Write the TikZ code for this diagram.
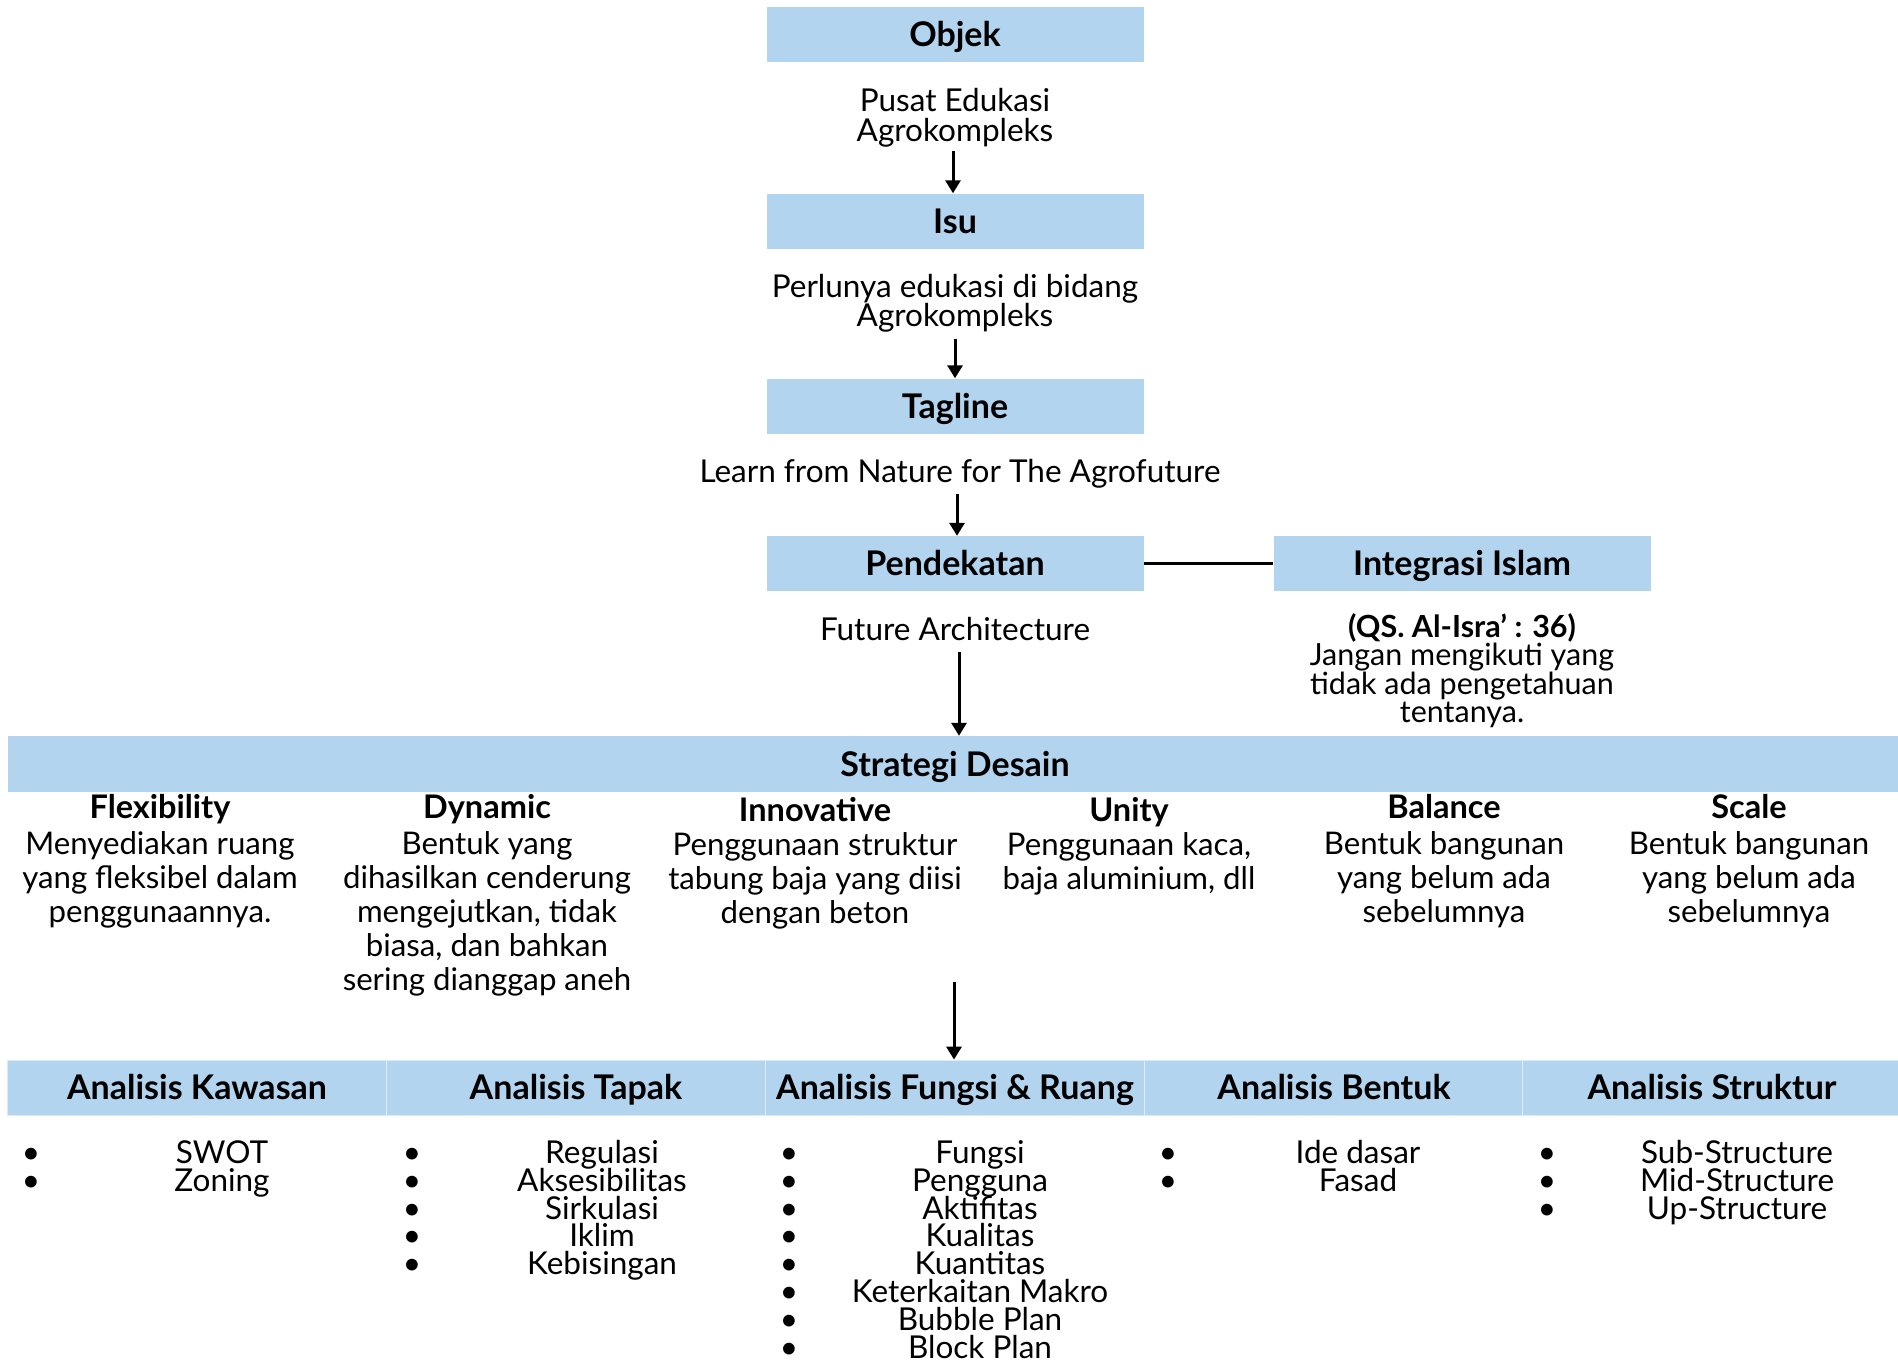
\documentclass[tikz,border=0pt]{standalone}
\usepackage{fontspec}
\setmainfont{Lato}
\usetikzlibrary{arrows.meta}
\definecolor{boxblue}{HTML}{B2D4EE}
\tikzset{
  hdr/.style={fill=boxblue, minimum width=377pt, minimum height=55pt, inner sep=0pt,
    text height=24pt, text depth=0pt,
    font=\fontsize{34}{36}\selectfont\bfseries},
  txt/.style={font=\fontsize{31.5}{30}\selectfont, align=center, inner sep=0pt, anchor=base},
  stitle/.style={font=\fontsize{32.5}{34}\selectfont\bfseries, inner sep=0pt, anchor=base},
  sbody/.style={font=\fontsize{31.2}{34}\selectfont, align=center, inner sep=0pt, anchor=base},
  item/.style={font=\fontsize{31.5}{28}\selectfont, inner sep=0pt, anchor=base},
  arr/.style={line width=3pt, -{Triangle[length=13pt,width=15pt]}},
}
\begin{document}
\begin{tikzpicture}[x=1pt,y=-1pt]
\useasboundingbox[fill=white] (0,0) rectangle (1898,1360);

% top chain
\node[hdr] (objek) at (955,34.5) {Objek};
\node[txt] (pusat) at (955,141.5) {Pusat Edukasi\\Agrokompleks};
\node[hdr] (isu) at (955,221) {Isu};
\node[txt, font=\fontsize{31.5}{29}\selectfont] (perlu) at (955,326.5) {Perlunya edukasi di bidang\\Agrokompleks};
\node[hdr] (tag) at (955,406) {Tagline};
\node[txt] (learn) at (960,482.5) {Learn from Nature for The Agrofuture};
\node[hdr] (pend) at (955,563.5) {Pendekatan};
\node[hdr] (integ) at (1462,563.5) {Integrasi Islam};
\node[txt] (future) at (955,640.5) {Future Architecture};
\node[txt, font=\fontsize{30.5}{28.5}\selectfont] (qs) at (1462,722.5)
  {\textbf{(QS. Al-Isra’ : 36)}\\Jangan mengikuti yang\\tidak ada pengetahuan\\tentanya.};

\coordinate (c1) at (953,151);
\coordinate (c2) at (955,339);
\coordinate (c3) at (957,494);
\coordinate (c4) at (959,652);
\draw[arr] (c1) -- (isu.north -| c1);
\draw[arr] (c2) -- (tag.north -| c2);
\draw[arr] (c3) -- (pend.north -| c3);
\draw[line width=2.2pt] (pend.east) -- (integ.west);

% strategi desain
\node[fill=boxblue, minimum width=1890pt, minimum height=56pt, inner sep=0pt] (sd) at (953,764) {};
\node[font=\fontsize{34}{36}\selectfont\bfseries, inner sep=0pt, text height=24pt, text depth=0pt] (sdt) at (955,764) {Strategi Desain};
\draw[arr] (c4) -- (sd.north -| c4);

\node[stitle] (t1) at (160,818.5) {Flexibility};
\node[stitle] (t2) at (487,818.5) {Dynamic};
\node[stitle] (t3) at (815,821) {Innovative};
\node[stitle] (t4) at (1129,821) {Unity};
\node[stitle] (t5) at (1444,818.5) {Balance};
\node[stitle] (t6) at (1749,818.5) {Scale};

\node[sbody] (b1) at (160,922.5) {Menyediakan ruang\\yang fleksibel dalam\\penggunaannya.};
\node[sbody] (b2) at (487,990.5) {Bentuk yang\\dihasilkan cenderung\\mengejutkan, tidak\\biasa, dan bahkan\\sering dianggap aneh};
\node[sbody] (b3) at (815,923.5) {Penggunaan struktur\\tabung baja yang diisi\\dengan beton};
\node[sbody] (b4) at (1129,889.5) {Penggunaan kaca,\\baja aluminium, dll};
\node[sbody] (b5) at (1444,922.5) {Bentuk bangunan\\yang belum ada\\sebelumnya};
\node[sbody] (b6) at (1749,922.5) {Bentuk bangunan\\yang belum ada\\sebelumnya};

% analisis bar
\tikzset{abar/.style={hdr, minimum width=379pt, draw=white!55!boxblue, line width=0.8pt}}
\node[abar] (a1) at (197,1087.5) {Analisis Kawasan};
\node[abar] (a2) at (576,1087.5) {Analisis Tapak};
\node[abar] (a3) at (955,1087.5) {Analisis Fungsi \& Ruang};
\node[abar] (a4) at (1334,1087.5) {Analisis Bentuk};
\node[abar] (a5) at (1712,1087.5) {Analisis Struktur};

\coordinate (sdend) at (954,982);
\draw[arr] (sdend) -- (a3.north -| sdend);

% bullet lists
\foreach \col/\bx/\cx/\items in {
  1/31/222/{SWOT,Zoning},
  2/412/602/{Regulasi,Aksesibilitas,Sirkulasi,Iklim,Kebisingan},
  3/789/980/{Fungsi,Pengguna,Aktifitas,Kualitas,Kuantitas,Keterkaitan Makro,Bubble Plan,Block Plan},
  4/1168/1358/{Ide dasar,Fasad},
  5/1547/1737/{Sub-Structure,Mid-Structure,Up-Structure}} {
  \foreach \itm [count=\k] in \items {
    \node[item] (d\col-\k) at (\bx,1163.5+27.8*\k-27.8) {•};
    \node[item] (i\col-\k) at (\cx,1163.5+27.8*\k-27.8) {\itm};
  }
}
\end{tikzpicture}
\end{document}
